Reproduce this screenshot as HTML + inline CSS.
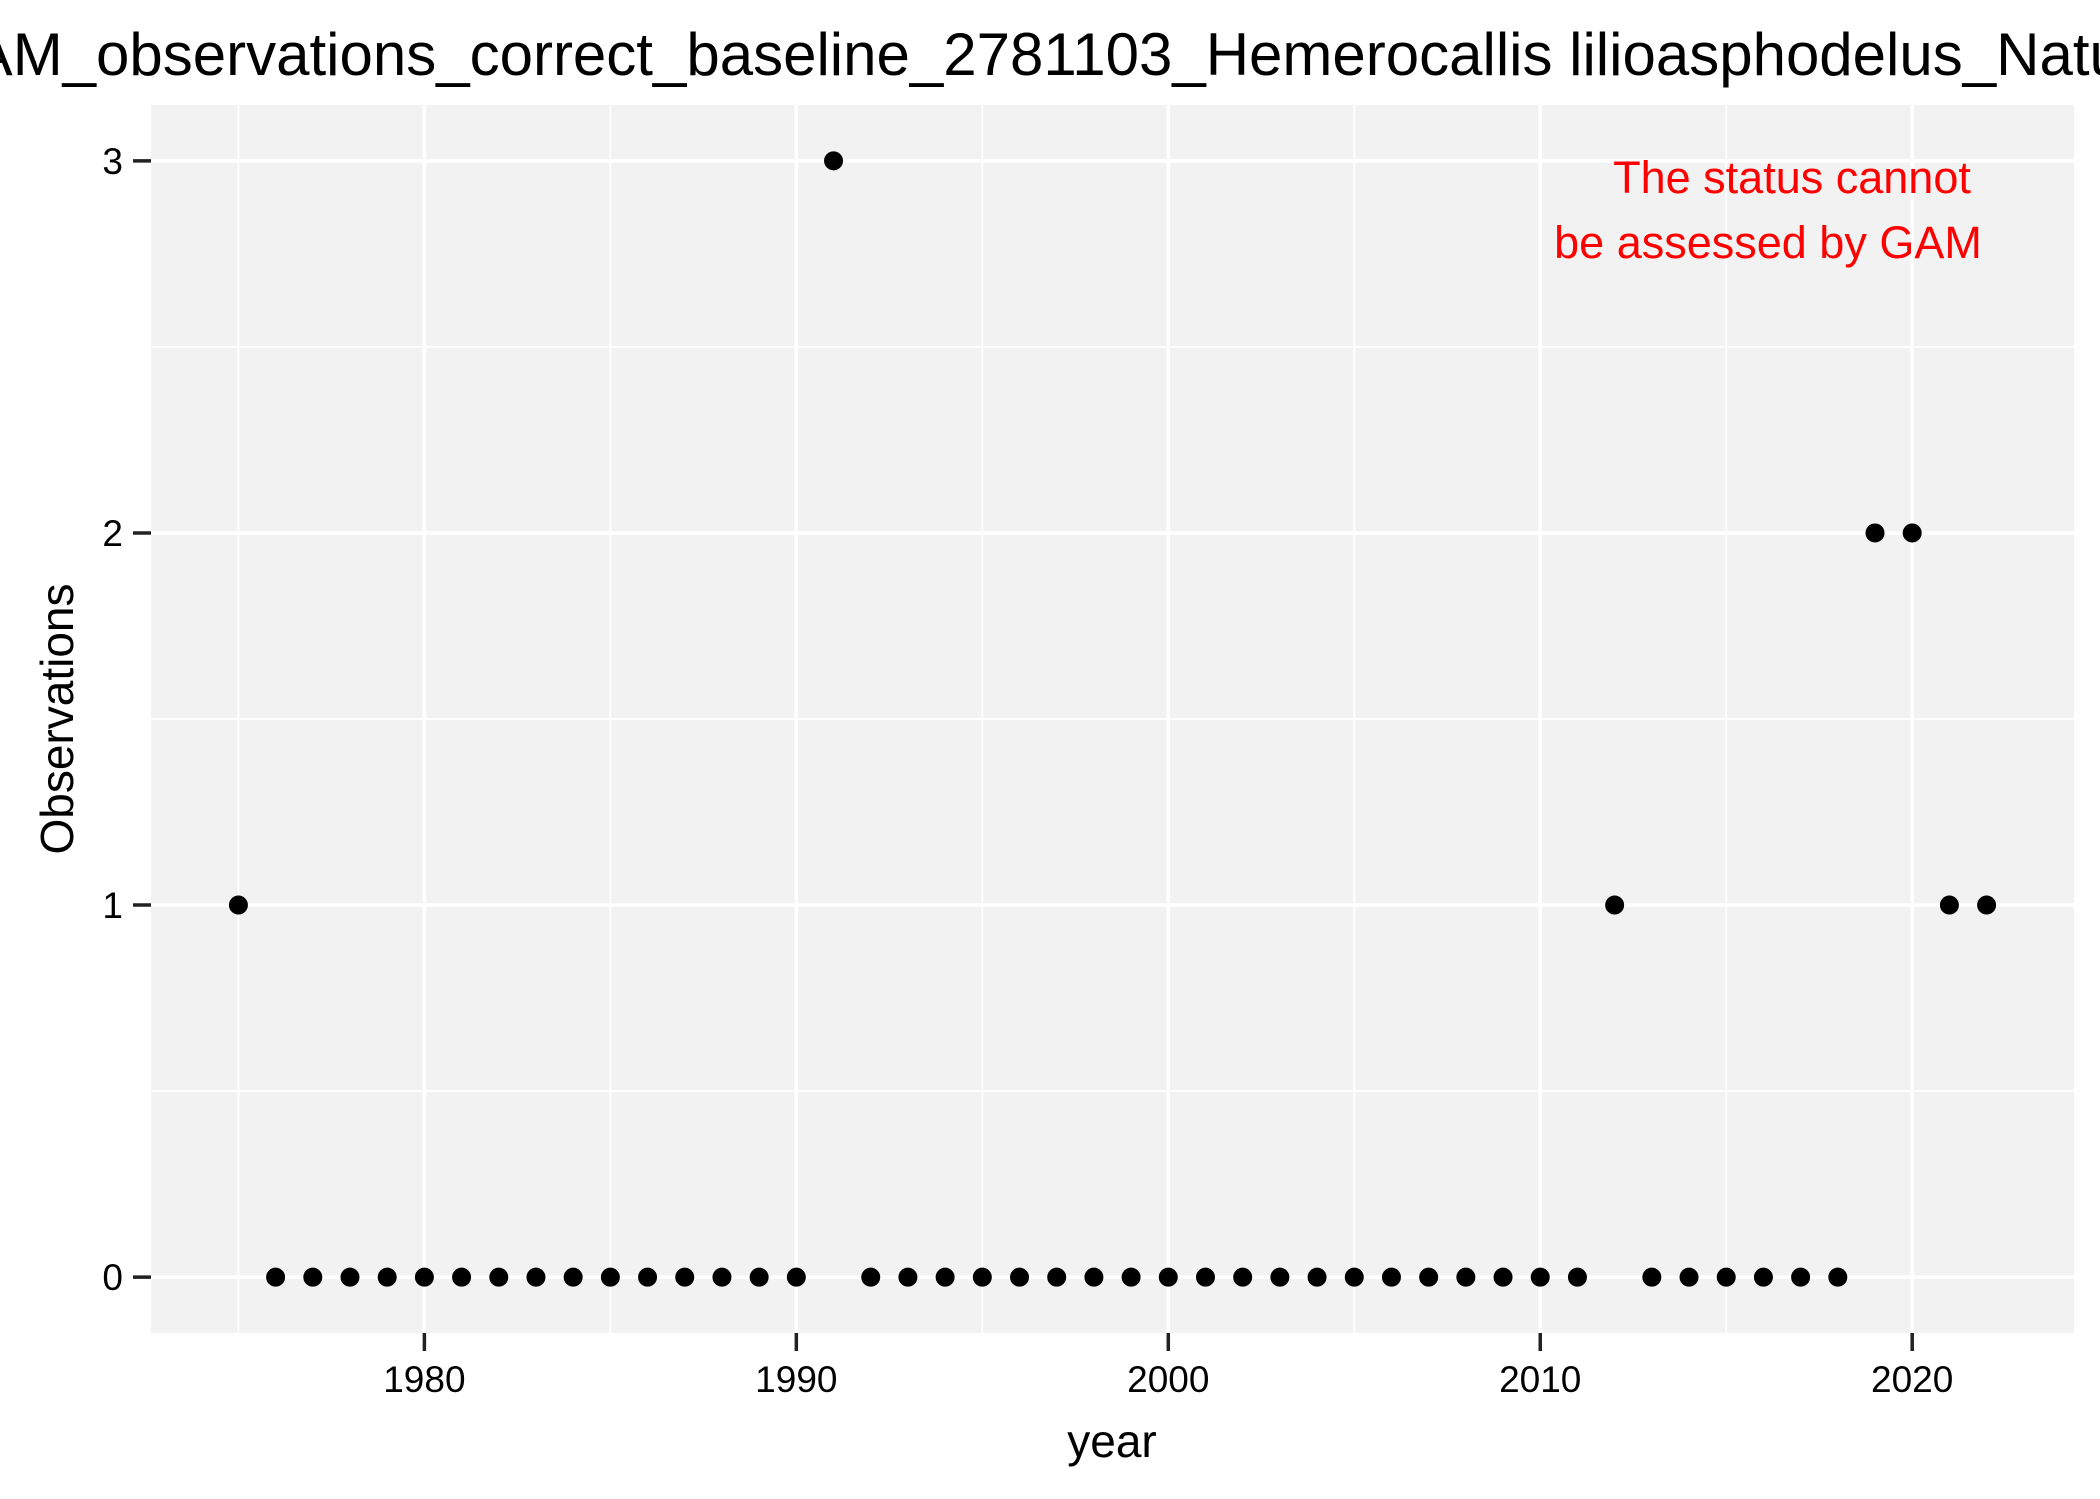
<!DOCTYPE html>
<html><head><meta charset="utf-8"><style>
html,body{margin:0;padding:0;background:#fff;}
svg{display:block;font-family:"Liberation Sans",Arial,sans-serif;}
</style></head><body>
<svg id="chart" width="2100" height="1499" viewBox="0 0 2100 1499">
<rect x="0" y="0" width="2100" height="1499" fill="#fff"/>
<text x="-74" y="75" font-size="60" fill="#000">GAM_observations_correct_baseline_2781103_Hemerocallis lilioasphodelus_Natura2000</text>
<rect x="151" y="105" width="1923" height="1228" fill="#f2f2f2"/>
<g id="grid"></g>
<g id="axes"></g>
<g id="points"></g>
<text x="1792" y="193" font-size="45" fill="#ff0000" text-anchor="middle">The status cannot</text>
<text x="1768" y="258" font-size="45" fill="#ff0000" text-anchor="middle">be assessed by GAM</text>
<text x="1112" y="1457" font-size="46" fill="#000" text-anchor="middle">year</text>
<text transform="translate(73,719) rotate(-90)" font-size="46" fill="#000" text-anchor="middle">Observations</text>
</svg>
<script>
const years = [1975,1976,1977,1978,1979,1980,1981,1982,1983,1984,1985,1986,1987,1988,1989,1990,1991,1992,1993,1994,1995,1996,1997,1998,1999,2000,2001,2002,2003,2004,2005,2006,2007,2008,2009,2010,2011,2012,2013,2014,2015,2016,2017,2018,2019,2020,2021,2022];
const observations = [1,0,0,0,0,0,0,0,0,0,0,0,0,0,0,0,3,0,0,0,0,0,0,0,0,0,0,0,0,0,0,0,0,0,0,0,0,1,0,0,0,0,0,0,2,2,1,1];
const xTicks = [1980,1990,2000,2010,2020];
const xMinor = [1975,1985,1995,2005,2015];
const yTicks = [0,1,2,3];
const yMinor = [0.5,1.5,2.5];

const NS = "http://www.w3.org/2000/svg";
const PL = 151, PR = 2074, PT = 105, PB = 1333;
const xmin = 1975, xmax = 2022, ymin = 0, ymax = 3;
const xpad = (xmax - xmin) * 0.05, ypad = (ymax - ymin) * 0.05;
function xScale(v){ return PL + (v - (xmin - xpad)) / ((xmax + xpad) - (xmin - xpad)) * (PR - PL); }
function yScale(v){ return PB - (v - (ymin - ypad)) / ((ymax + ypad) - (ymin - ypad)) * (PB - PT); }
function mk(tag, attrs, parent){ const e = document.createElementNS(NS, tag); for (const k in attrs) e.setAttribute(k, attrs[k]); parent.appendChild(e); return e; }

const grid = document.getElementById('grid');
const axes = document.getElementById('axes');
const pts = document.getElementById('points');

yMinor.forEach(v => {
  const l = mk('line', {x1: PL, x2: PR, y1: yScale(v), y2: yScale(v), stroke: '#fff', 'stroke-width': 1.7}, grid);
  
  
});
xMinor.forEach(v => {
  const l = mk('line', {x1: xScale(v), x2: xScale(v), y1: PT, y2: PB, stroke: '#fff', 'stroke-width': 1.7}, grid);
  
  
});
yTicks.forEach(v => {
  const y = yScale(v);
  const l = mk('line', {x1: PL, x2: PR, y1: y, y2: y, stroke: '#fff', 'stroke-width': 3.5}, grid);
  
  
  const t = mk('line', {x1: PL - 18, x2: PL, y1: y, y2: y, stroke: '#222', 'stroke-width': 3.5}, axes);
  
  
  const tx = mk('text', {x: PL - 28, y: y + 13, 'font-size': 37, 'text-anchor': 'end', fill: '#000'}, axes);
  tx.textContent = v;
  
  
});
xTicks.forEach(v => {
  const x = xScale(v);
  const l = mk('line', {x1: x, x2: x, y1: PT, y2: PB, stroke: '#fff', 'stroke-width': 3.5}, grid);
  
  
  const t = mk('line', {x1: x, x2: x, y1: PB, y2: PB + 18, stroke: '#222', 'stroke-width': 3.5}, axes);
  
  
  const tx = mk('text', {x: x, y: 1392, 'font-size': 37, 'text-anchor': 'middle', fill: '#000'}, axes);
  tx.textContent = v;
  
  
});
years.forEach((yr, i) => {
  const c = mk('circle', {cx: xScale(yr), cy: yScale(observations[i]), r: 9.5, fill: '#000'}, pts);
  
  
});
</script>
</body></html>
